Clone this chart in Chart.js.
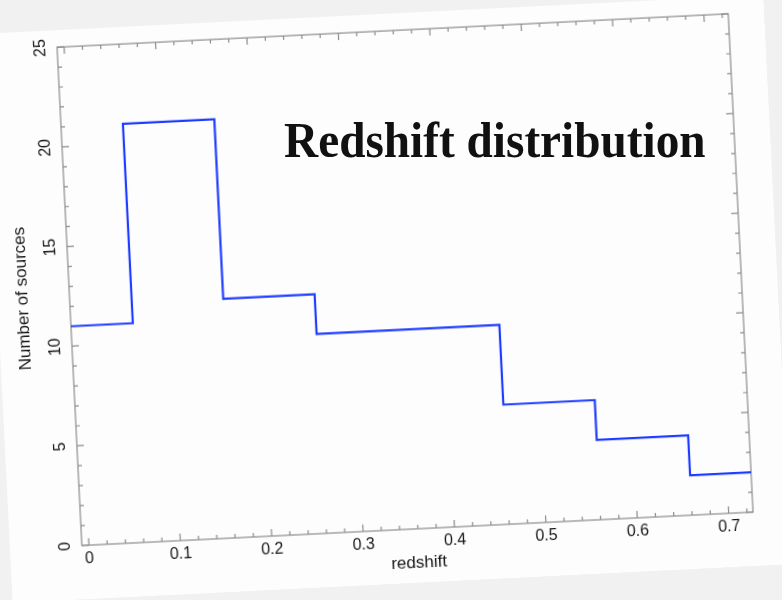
<!DOCTYPE html>
<html>
<head>
<meta charset="utf-8">
<title>Redshift distribution</title>
<script src="https://cdn.jsdelivr.net/npm/chart.js@4/dist/chart.umd.min.js"></script>
<style>
  html, body { margin: 0; padding: 0; width: 782px; height: 600px; overflow: hidden; background: #f1f1f1; }
  #sheet {
    position: absolute; left: -2.5px; top: 14.2px;
    width: 780px; height: 570px;
    background: #fdfdfd;
    transform: rotate(-2.85deg); transform-origin: 50% 50%;
  }
  #heading {
    position: absolute; left: 284px; top: 114.6px;
    font-family: "Liberation Serif", "Times New Roman", serif;
    font-weight: bold; font-size: 51px; line-height: 51px;
    color: #111; white-space: nowrap;
    transform: scaleX(0.927); transform-origin: 0 0;
  }
</style>
</head>
<body>
<canvas id="sheet" width="780" height="570"></canvas>
<div id="heading">Redshift distribution</div>
<script>
// Histogram of source redshifts: bin edges and number of sources per bin
const binEdges = [-0.04, 0.06, 0.16, 0.26, 0.36, 0.46, 0.56, 0.66, 0.76];
const counts = [11, 21, 12, 10, 10, 6, 4, 2];

// Axis tick labels
const xTickValues = [0, 0.1, 0.2, 0.3, 0.4, 0.5, 0.6, 0.7];
const yTickValues = [0, 5, 10, 15, 20, 25];

// Stepped outline: each bin starts at its left edge, last edge closes the final bin
const outline = binEdges.map((edge, i) => ({ x: edge, y: counts[Math.min(i, counts.length - 1)] }));

const AXIS_FONT = { family: "'Liberation Sans', Arial, sans-serif", size: 16 };
const TITLE_FONT = { family: "'Liberation Sans', Arial, sans-serif", size: 17 };

// Box frame with inward major/minor ticks on all four sides
const frameTicks = {
  id: 'frameTicks',
  beforeDatasetsDraw(chart) {
    const { ctx, chartArea: a, scales: { x, y } } = chart;
    ctx.save();
    ctx.strokeStyle = '#8c8c8c';
    ctx.lineWidth = 1.2;
    ctx.strokeRect(a.left, a.top, a.width, a.height);
    ctx.beginPath();
    for (let i = 0; i <= 36; i++) {
      const px = x.getPixelForValue(i * 0.02);
      const len = i % 5 === 0 ? 7 : 4;
      ctx.moveTo(px, a.bottom); ctx.lineTo(px, a.bottom - len);
      ctx.moveTo(px, a.top); ctx.lineTo(px, a.top + len);
    }
    for (let j = 0; j <= 25; j++) {
      const py = y.getPixelForValue(j);
      const len = j % 5 === 0 ? 7 : 4;
      ctx.moveTo(a.left, py); ctx.lineTo(a.left + len, py);
      ctx.moveTo(a.right, py); ctx.lineTo(a.right - len, py);
    }
    ctx.stroke();
    ctx.restore();
  }
};

new Chart(document.getElementById('sheet'), {
  type: 'line',
  data: {
    datasets: [{
      data: outline,
      stepped: true,
      borderColor: '#1e3cff',
      borderWidth: 2.2,
      pointRadius: 0,
      fill: false,
      clip: 0
    }]
  },
  options: {
    responsive: false,
    animation: false,
    events: [],
    layout: { padding: { top: 16, right: 36, left: 0, bottom: 0 } },
    plugins: { legend: { display: false }, tooltip: { enabled: false } },
    scales: {
      x: {
        type: 'linear',
        min: -0.0077,
        max: 0.7267,
        afterFit(scale) { scale.height = 54; },
        afterBuildTicks(scale) { scale.ticks = xTickValues.map(v => ({ value: v })); },
        grid: { display: false, drawTicks: false },
        border: { display: false },
        ticks: {
          padding: 4,
          color: '#161616',
          font: AXIS_FONT,
          maxRotation: 0,
          autoSkip: false,
          callback: v => String(Number(v.toFixed(2)))
        },
        title: { display: true, text: 'redshift', color: '#161616', font: TITLE_FONT, padding: { top: 0, bottom: 9 } }
      },
      y: {
        type: 'linear',
        min: 0,
        max: 25,
        afterFit(scale) { scale.width = 72; },
        afterBuildTicks(scale) { scale.ticks = yTickValues.map(v => ({ value: v })); },
        grid: { display: false, drawTicks: false },
        border: { display: false },
        ticks: {
          padding: 7.5,
          color: '#161616',
          font: AXIS_FONT,
          minRotation: 90,
          maxRotation: 90,
          crossAlign: 'center',
          autoSkip: false,
          callback: v => String(v)
        },
        title: { display: true, text: 'Number of sources', color: '#161616', font: TITLE_FONT, padding: { top: 15, bottom: 0 } }
      }
    }
  },
  plugins: [frameTicks]
});
</script>
</body>
</html>
